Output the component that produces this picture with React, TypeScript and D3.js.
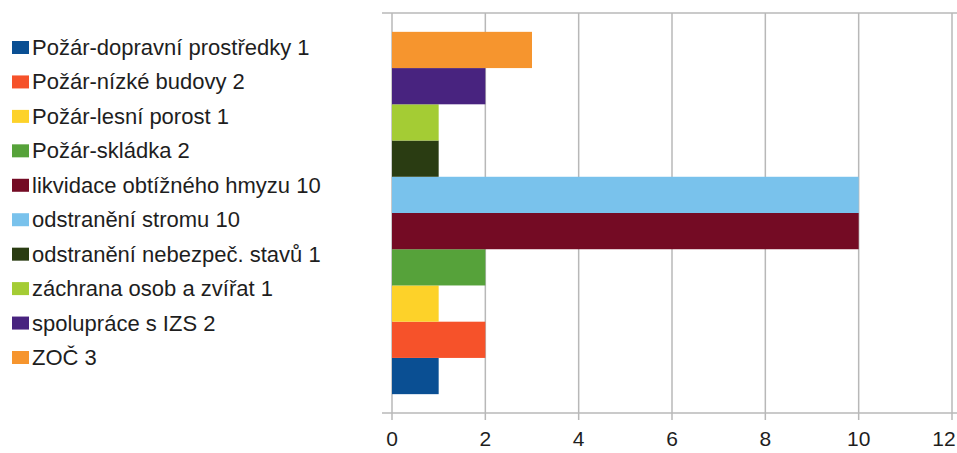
import { scaleBand, scaleLinear } from "d3";

const categories = [
  "Požár-dopravní prostředky 1",
  "Požár-nízké budovy 2",
  "Požár-lesní porost 1",
  "Požár-skládka 2",
  "likvidace obtížného hmyzu 10",
  "odstranění stromu 10",
  "odstranění nebezpeč. stavů 1",
  "záchrana osob a zvířat 1",
  "spolupráce s IZS 2",
  "ZOČ 3",
];
const values = [1, 2, 1, 2, 10, 10, 1, 1, 2, 3];
const colors = [
  "#0a4f93",
  "#f6522a",
  "#fdd229",
  "#56a23a",
  "#740b24",
  "#79c2ec",
  "#2a3c12",
  "#a4cc34",
  "#48237f",
  "#f6952e",
];
const xTicks = [0, 2, 4, 6, 8, 10, 12];

export default function App() {
  const width = 957;
  const height = 453;
  const plot = { left: 392, right: 952, top: 13, bottom: 413 };

  const x = scaleLinear().domain([0, 12]).range([plot.left, plot.right]);
  // first category sits at the bottom
  const y = scaleBand<number>()
    .domain(categories.map((_, i) => i).reverse())
    .range([plot.top, plot.bottom])
    .paddingInner(0)
    .paddingOuter(0.52);

  const legend = scaleLinear().domain([0, 9]).range([47, 357]);

  return (
    <svg
      width={width}
      height={height}
      style={{ position: "absolute", left: 0, top: 0, background: "#fff" }}
      fontFamily="Liberation Sans, Arial, sans-serif"
    >
      <g className="grid">
        {xTicks.map((t) => (
          <line
            key={`g-${t}`}
            x1={x(t)}
            x2={x(t)}
            y1={plot.top}
            y2={plot.bottom + 7}
            stroke="#b8b8b8"
            strokeWidth={1.5}
          />
        ))}
        <line x1={382} x2={width} y1={plot.top} y2={plot.top} stroke="#b8b8b8" strokeWidth={1.5} />
        <line x1={382} x2={width} y1={plot.bottom} y2={plot.bottom} stroke="#b8b8b8" strokeWidth={1.5} />
      </g>
      <g className="bars">
        {values.map((v, i) => (
          <rect
            key={categories[i]}
            x={x(0)}
            y={y(i)}
            width={x(v) - x(0)}
            height={y.bandwidth()}
            fill={colors[i]}
          />
        ))}
      </g>
      <g className="x-labels" fontSize={21} fill="#1e1e1e">
        {xTicks.map((t) => (
          <text key={`t-${t}`} x={Math.min(x(t), width - 13)} y={446} textAnchor="middle">
            {t}
          </text>
        ))}
      </g>
      <g className="legend" fontSize={22} fill="#1e1e1e">
        {categories.map((c, i) => (
          <g key={c} transform={`translate(0, ${legend(i)})`}>
            <rect x={12} y={-6} width={17} height={13} fill={colors[i]} />
            <text x={32} y={8}>
              {c}
            </text>
          </g>
        ))}
      </g>
    </svg>
  );
}
